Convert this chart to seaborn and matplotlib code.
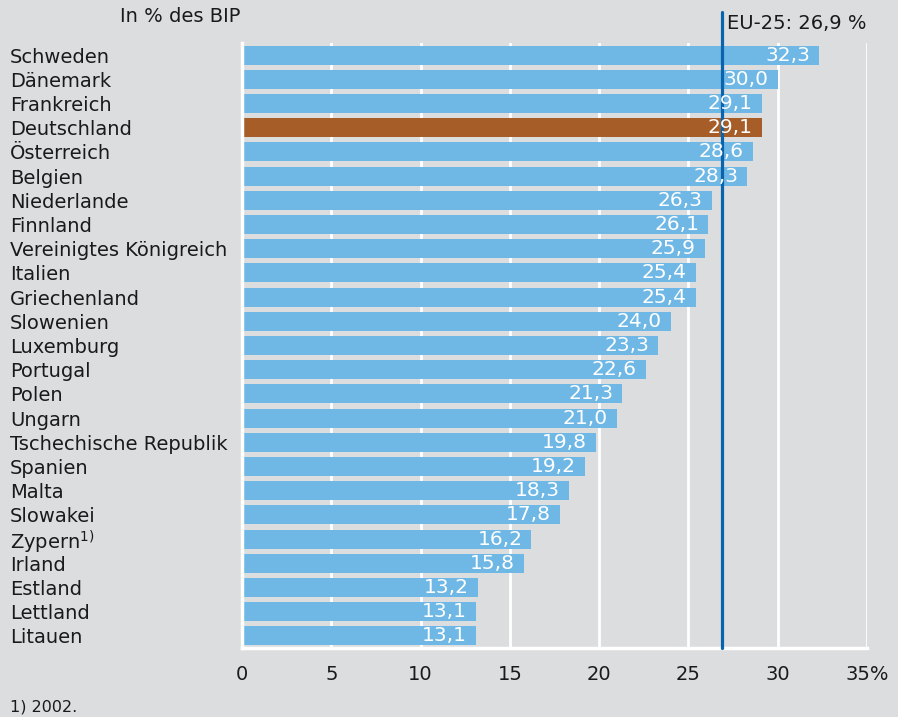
import numpy as np
import pandas as pd
import matplotlib
matplotlib.use('Agg')
import matplotlib.pyplot as plt
import seaborn as sns

# Sozialschutzausgaben in % des BIP, EU-25
countries = ['Schweden', 'Dänemark', 'Frankreich', 'Deutschland', 'Österreich', 'Belgien',
             'Niederlande', 'Finnland', 'Vereinigtes Königreich', 'Italien', 'Griechenland',
             'Slowenien', 'Luxemburg', 'Portugal', 'Polen', 'Ungarn', 'Tschechische Republik',
             'Spanien', 'Malta', 'Slowakei', 'Zypern$^{1)}$', 'Irland', 'Estland', 'Lettland', 'Litauen']
values = [32.3, 30.0, 29.1, 29.1, 28.6, 28.3, 26.3, 26.1, 25.9, 25.4, 25.4, 24.0, 23.3, 22.6,
          21.3, 21.0, 19.8, 19.2, 18.3, 17.8, 16.2, 15.8, 13.2, 13.1, 13.1]
eu_avg = 26.9
xticks = [0, 5, 10, 15, 20, 25, 30, 35]
xtick_labels = ['0', '5', '10', '15', '20', '25', '30', '35%']

bg = '#dcdddf'
blue = '#6fb8e6'
brown = '#a65d27'
line_col = '#0a64ad'
txt = '#1a1a1a'

sns.set_style('white', {'axes.facecolor': bg, 'figure.facecolor': bg})
plt.rcParams['font.family'] = ['DejaVu Sans']
plt.rcParams['mathtext.default'] = 'regular'

df = pd.DataFrame({'country': countries, 'value': values})
colors = [brown if c == 'Deutschland' else blue for c in countries]

fig = plt.figure(figsize=(8.98, 7.17), dpi=100)
ax = fig.add_axes([0.2695, 0.0962, 0.6960, 0.8438])

sns.barplot(data=df, x='value', y='country', hue='country', palette=colors,
            legend=False, width=0.79, saturation=1, linewidth=0, ax=ax, zorder=2)

ax.set_xlim(0, 35)
ax.set_ylim(24.5, -0.5)
ax.set_xticks(xticks)
ax.set_xticklabels(xtick_labels)
for x in xticks[1:]:
    ax.axvline(x, color='white', lw=2, zorder=1)

for s in ['top', 'right']:
    ax.spines[s].set_visible(False)
for s in ['left', 'bottom']:
    ax.spines[s].set_color('white')
    ax.spines[s].set_linewidth(2.5)

ax.set_xlabel('')
ax.set_ylabel('')
ax.tick_params(axis='both', length=0, labelsize=14, colors=txt)
ax.tick_params(axis='x', pad=12)
ax.tick_params(axis='y', pad=167)
for lab in ax.get_yticklabels():
    lab.set_horizontalalignment('left')

# Werte in den Balken
for i, v in enumerate(values):
    ax.text(v - 0.5, i, f'{v:.1f}'.replace('.', ','), color='white', fontsize=14.5,
            ha='right', va='center', zorder=4)

# EU-25 Durchschnitt
ax.plot([eu_avg, eu_avg], [24.5, -1.8], color=line_col, lw=2.3, zorder=3, clip_on=False)
ax.text(eu_avg + 0.25, -1.3, 'EU-25: 26,9 %', fontsize=14, color=txt,
        ha='left', va='center')

fig.text(120 / 898, 1 - 16 / 717, 'In % des BIP', fontsize=14, color=txt,
         ha='left', va='center')
fig.text(10 / 898, 1 - 707 / 717, '1) 2002.', fontsize=11.5, color=txt,
         ha='left', va='center')

fig.savefig('out.png', dpi=100, facecolor=bg)
